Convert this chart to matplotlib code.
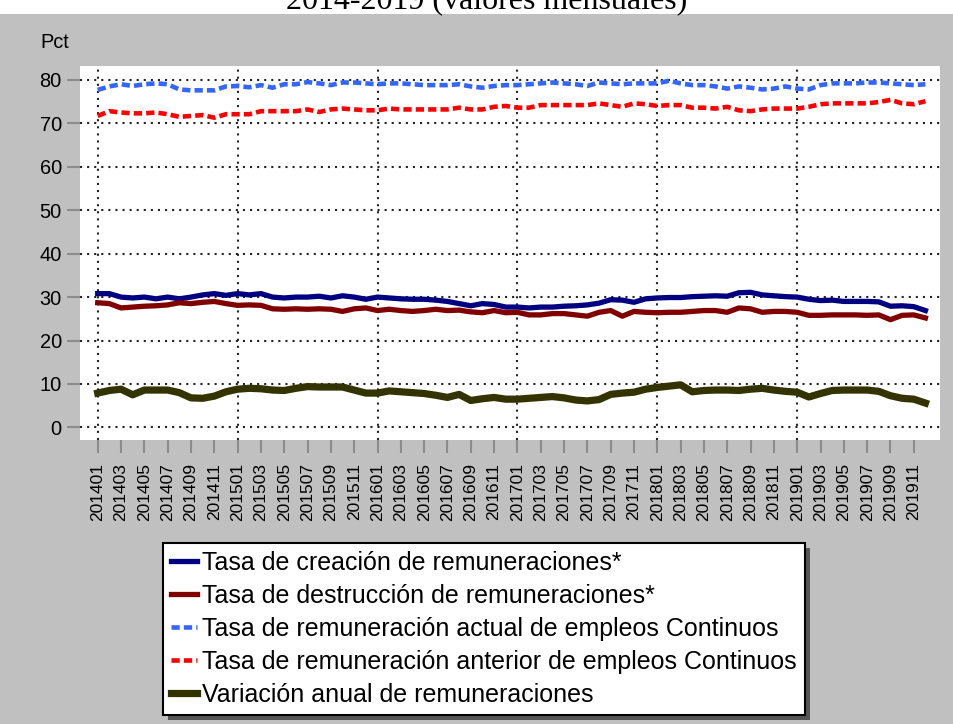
#!/usr/bin/env python

import matplotlib
matplotlib.use("Agg")
import matplotlib.pyplot as plt
from matplotlib.patches import Rectangle

plt.rcParams["font.family"] = ["Liberation Sans", "DejaVu Sans"]

years = ["2014", "2015", "2016", "2017", "2018", "2019"]
months = [f"{y}{m:02d}" for y in years for m in range(1, 13)]

creacion = [
    30.8, 30.8, 30.0, 29.8, 30.0, 29.6, 30.0, 29.6, 30.0, 30.5, 30.8, 30.4,
    30.8, 30.5, 30.8, 30.0, 29.8, 30.0, 30.0, 30.2, 29.8, 30.3, 30.0, 29.5,
    30.0, 29.8, 29.6, 29.5, 29.5, 29.3, 29.0, 28.5, 28.0, 28.5, 28.3, 27.7,
    27.7, 27.5, 27.7, 27.7, 27.9, 28.0, 28.2, 28.6, 29.4, 29.3, 28.8, 29.6,
    29.8, 29.9, 29.9, 30.1, 30.2, 30.3, 30.2, 31.0, 31.1, 30.5, 30.3, 30.1,
    30.0, 29.5, 29.2, 29.3, 29.0, 29.0, 29.0, 28.9, 27.9, 28.0, 27.8, 26.9,
]
destruccion = [
    28.7, 28.5, 27.5, 27.7, 27.9, 28.0, 28.2, 28.7, 28.5, 28.8, 29.0, 28.5,
    28.1, 28.2, 28.1, 27.3, 27.2, 27.3, 27.2, 27.3, 27.2, 26.7, 27.3, 27.5,
    26.9, 27.2, 26.9, 26.7, 26.9, 27.2, 26.9, 27.0, 26.6, 26.4, 26.9, 26.4,
    26.5, 25.9, 25.9, 26.2, 26.2, 25.9, 25.6, 26.5, 26.9, 25.6, 26.7, 26.5,
    26.4, 26.5, 26.5, 26.7, 26.9, 26.9, 26.5, 27.5, 27.3, 26.5, 26.7, 26.7,
    26.5, 25.8, 25.8, 25.9, 25.9, 25.9, 25.8, 25.9, 24.8, 25.8, 25.9, 25.2,
]
actual_continuos = [
    77.7, 78.5, 79.0, 78.6, 79.0, 79.2, 79.0, 77.8, 77.6, 77.6, 77.6, 78.5,
    78.6, 78.3, 78.8, 78.2, 79.0, 79.0, 79.5, 79.2, 78.8, 79.4, 79.4, 79.2,
    79.0, 79.2, 79.2, 79.0, 78.8, 78.8, 78.8, 79.0, 78.5, 78.2, 78.6, 78.8,
    78.8, 79.0, 79.2, 79.4, 79.2, 79.0, 78.6, 79.4, 79.2, 79.0, 79.2, 79.2,
    79.2, 79.8, 79.2, 78.8, 78.8, 78.5, 78.0, 78.5, 78.2, 77.8, 78.0, 78.5,
    78.0, 77.8, 78.8, 79.2, 79.2, 79.2, 79.4, 79.4, 79.2, 79.0, 78.8, 79.0,
]
anterior_continuos = [
    71.7, 72.8, 72.5, 72.3, 72.3, 72.5, 72.1, 71.5, 71.7, 71.9, 71.3, 72.1,
    72.1, 72.1, 72.8, 72.8, 72.8, 72.8, 73.2, 72.6, 73.2, 73.4, 73.2, 73.0,
    73.0, 73.4, 73.2, 73.2, 73.2, 73.2, 73.2, 73.6, 73.2, 73.2, 73.8, 74.0,
    73.6, 73.6, 74.2, 74.2, 74.2, 74.2, 74.2, 74.6, 74.2, 73.8, 74.6, 74.4,
    74.0, 74.2, 74.2, 73.6, 73.6, 73.4, 73.8, 73.0, 72.8, 73.2, 73.4, 73.4,
    73.4, 73.8, 74.4, 74.6, 74.6, 74.6, 74.6, 74.9, 75.4, 74.6, 74.4, 75.1,
]
variacion = [
    7.9, 8.5, 8.8, 7.5, 8.6, 8.6, 8.6, 8.0, 6.8, 6.7, 7.2, 8.2,
    8.8, 9.0, 8.9, 8.6, 8.5, 9.0, 9.4, 9.3, 9.3, 9.3, 8.6, 7.9,
    7.9, 8.4, 8.2, 8.0, 7.8, 7.4, 6.9, 7.6, 6.2, 6.6, 6.9, 6.5,
    6.5, 6.7, 6.9, 7.1, 6.8, 6.3, 6.1, 6.4, 7.6, 7.9, 8.1, 8.8,
    9.2, 9.5, 9.8, 8.2, 8.5, 8.6, 8.6, 8.5, 8.8, 9.0, 8.6, 8.3,
    8.1, 7.0, 7.8, 8.5, 8.6, 8.6, 8.6, 8.3, 7.3, 6.7, 6.5, 5.6,
]

labels = [
    "Tasa de creación de remuneraciones*",
    "Tasa de destrucción de remuneraciones*",
    "Tasa de remuneración actual de empleos Continuos",
    "Tasa de remuneración anterior de empleos Continuos",
    "Variación anual de remuneraciones",
]


def main():
    W, H = 954, 724
    fig = plt.figure(figsize=(W / 100, H / 100), dpi=100, facecolor="white")
    fig.add_artist(Rectangle((0, 0), 1, 1 - 14 / H, transform=fig.transFigure,
                             facecolor="#c0c0c0", edgecolor="none", zorder=-3))

    ax = fig.add_axes([80 / W, 1 - 440 / H, 860 / W, 374 / H])
    ax.set_facecolor("white")
    for s in ax.spines.values():
        s.set_visible(False)

    x = list(range(len(months)))
    ax.plot(x, creacion, color="#000080", lw=3.8, label=labels[0], zorder=3)
    ax.plot(x, destruccion, color="#800000", lw=3.8, label=labels[1], zorder=3)
    ax.plot(x, actual_continuos, color="#3366ff", lw=3.3, dashes=(1.8, 0.9),
            label=labels[2], zorder=3)
    ax.plot(x, anterior_continuos, color="#ff0000", lw=3.3, dashes=(1.8, 0.9),
            label=labels[3], zorder=3)
    ax.plot(x, variacion, color="#333300", lw=5.2, label=labels[4], zorder=3)

    ax.set_xlim(-1.52, 72.25)
    ax.set_ylim(-2.9, 83.2)

    # dotted grid: every 10 on y, each January on x
    ax.set_yticks(range(0, 81, 10))
    ax.yaxis.grid(True, color="#222222", lw=1.5, linestyle=(0, (1, 2.4)))
    for i, m in enumerate(months):
        if m.endswith("01"):
            ax.axvline(i, color="#222222", lw=1.5, linestyle=(0, (1, 2.4)), zorder=1)

    ax.set_xticks(x[::2])
    ax.set_xticklabels(months[::2], rotation=90, fontsize=12.5)
    ax.tick_params(axis="both", length=9.5, width=1.5, color="#8c8c8c")
    ax.tick_params(axis="y", labelsize=14.4, pad=3.6)
    ax.tick_params(axis="x", pad=7)

    fig.text(0.5 + 10 / W, 1 - 8 / H, "2014-2019 (valores mensuales)", ha="center",
             va="baseline", fontsize=23, family=["Liberation Serif", "DejaVu Serif"])
    fig.text(40 / W, 1 - 48 / H, "Pct", fontsize=14.4, va="baseline")

    handles, labs = ax.get_legend_handles_labels()
    leg = fig.legend(handles, labs, loc="upper left",
                     bbox_to_anchor=(163 / W, 1 - 543 / H), borderaxespad=0,
                     fontsize=18, frameon=True, fancybox=False,
                     edgecolor="black", facecolor="white", framealpha=1,
                     handlelength=1.05, handletextpad=0.2, labelspacing=0.36,
                     borderpad=0.32)
    leg.get_frame().set_linewidth(1.5)

    fig.canvas.draw()
    bb = leg.get_window_extent()
    fig.add_artist(Rectangle((bb.x0 + 5, bb.y0 - 5), bb.width, bb.height,
                             transform=None, facecolor="#555555",
                             edgecolor="none", zorder=-1))

    fig.savefig("out.png", dpi=100, facecolor=fig.get_facecolor())


if __name__ == "__main__":
    main()
